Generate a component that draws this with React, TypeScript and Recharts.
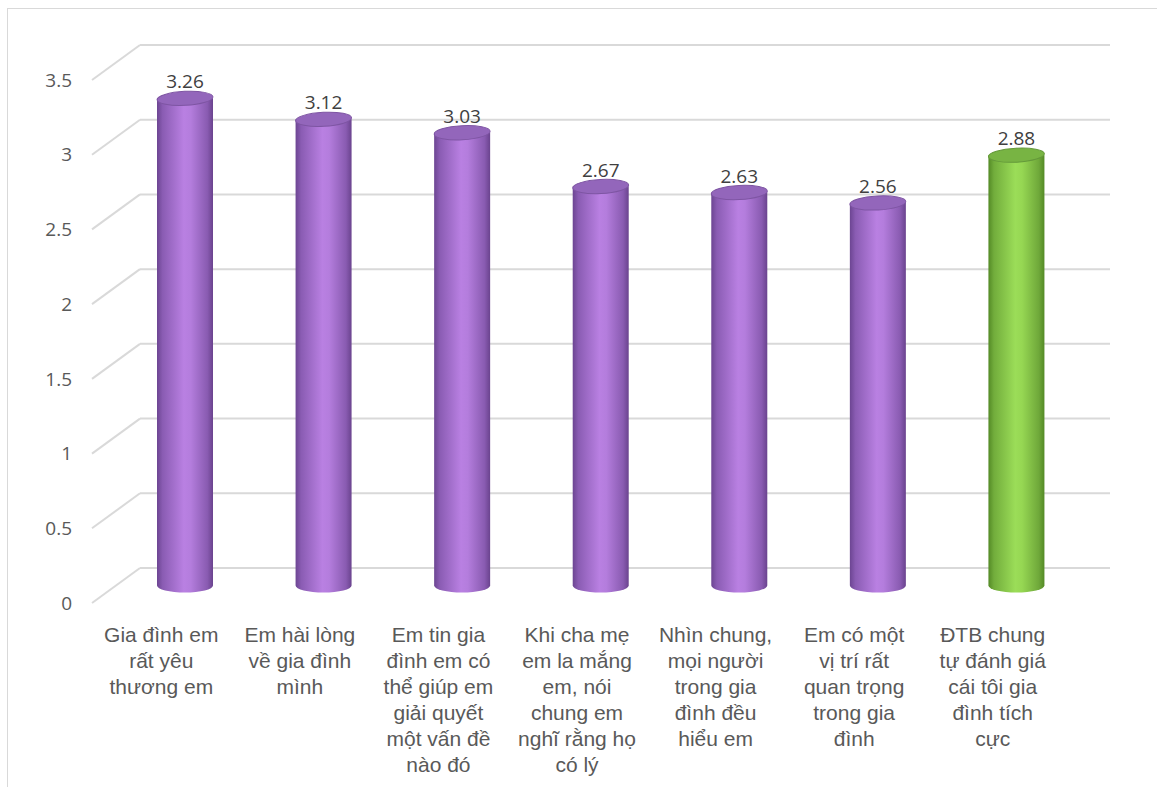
import { BarChart, Bar, XAxis, YAxis, CartesianGrid, Cell, LabelList } from 'recharts';

const categories = [
  'Gia đình em\nrất yêu\nthương em',
  'Em hài lòng\nvề gia đình\nmình',
  'Em tin gia\nđình em có\nthể giúp em\ngiải quyết\nmột vấn đề\nnào đó',
  'Khi cha mẹ\nem la mắng\nem, nói\nchung em\nnghĩ rằng họ\ncó lý',
  'Nhìn chung,\nmọi người\ntrong gia\nđình đều\nhiểu em',
  'Em có một\nvị trí rất\nquan trọng\ntrong gia\nđình',
  'ĐTB chung\ntự đánh giá\ncái tôi gia\nđình tích\ncực',
];
const scores = [3.26, 3.12, 3.03, 2.67, 2.63, 2.56, 2.88];
const highlight = [false, false, false, false, false, false, true];
const yTicks = [0, 0.5, 1, 1.5, 2, 2.5, 3, 3.5];

const data = categories.map((name, i) => ({ name, score: scores[i], total: highlight[i] }));

// 3D depth offsets: back wall and mid-depth (where cylinders stand)
const DEPTH_X = 48;
const DEPTH_Y = 35;
const MID_X = DEPTH_X / 2;
const MID_Y = DEPTH_Y / 2;
const RY = 7;
const GRID = '#d9d9d9';

const Cylinder = (props: any) => {
  const { x, y, width, height, payload } = props;
  const green = payload.total;
  const left = x + MID_X;
  const cx = left + width / 2;
  const top = y - MID_Y;
  const base = y + height - MID_Y;
  const rx = width / 2;
  return (
    <g>
      <path
        d={`M${left},${top} L${left},${base} A${rx},${RY} 0 0 0 ${left + width},${base} L${left + width},${top} Z`}
        fill={green ? 'url(#gradGreen)' : 'url(#gradPurple)'}
      />
      <ellipse
        cx={cx}
        cy={top}
        rx={rx}
        ry={RY}
        transform={`rotate(-3 ${cx} ${top})`}
        fill={green ? '#78b443' : '#9366bb'}
        stroke={green ? '#64993a' : '#7e55a3'}
        strokeWidth={1}
      />
    </g>
  );
};

const ValueLabel = (props: any) => {
  const { x, y, width, value } = props;
  return (
    <text
      x={x + width / 2 + MID_X}
      y={y - MID_Y - RY - 3}
      textAnchor="middle"
      fill="#404040"
      fontSize={19}
      fontFamily="'Open Sans', sans-serif"
    >
      {value}
    </text>
  );
};

const CategoryTick = (props: any) => {
  const { x, y, payload } = props;
  const lines = String(payload.value).split('\n');
  return (
    <text
      x={x}
      y={y}
      textAnchor="middle"
      fill="#595959"
      fontSize={21}
      fontFamily="'Liberation Sans', Arial, sans-serif"
    >
      {lines.map((ln, i) => (
        <tspan key={i} x={x} dy={i === 0 ? 31 : 26}>
          {ln}
        </tspan>
      ))}
    </text>
  );
};

const GridLine = (props: any) => {
  const { x1, y1, x2 } = props;
  return (
    <g>
      <line x1={x1} y1={y1} x2={x1 + DEPTH_X} y2={y1 - DEPTH_Y} stroke={GRID} strokeWidth={2} />
      <line x1={x1 + DEPTH_X} y1={y1 - DEPTH_Y} x2={x2 + DEPTH_X} y2={y1 - DEPTH_Y} stroke={GRID} strokeWidth={2} />
    </g>
  );
};

export default function App() {
  return (
    <div style={{ position: 'absolute', left: 0, top: 0, width: 1157, height: 787, background: '#fff', overflow: 'hidden' }}>
      <div style={{ position: 'absolute', left: 7, top: 8, width: 1170, height: 800, border: '1px solid #d9d9d9' }} />
      <BarChart
        width={1157}
        height={787}
        data={data}
        margin={{ top: 80, right: 95, left: 0, bottom: 4 }}
        barCategoryGap={0}
        style={{ position: 'absolute', left: 0, top: 0 }}
      >
        <defs>
          <linearGradient id="gradPurple" x1="0" y1="0" x2="1" y2="0">
            <stop offset="0%" stopColor="#6c4592" />
            <stop offset="10%" stopColor="#8a5cb3" />
            <stop offset="48%" stopColor="#b980e2" />
            <stop offset="60%" stopColor="#b47ddd" />
            <stop offset="90%" stopColor="#895bb1" />
            <stop offset="100%" stopColor="#6a438e" />
          </linearGradient>
          <linearGradient id="gradGreen" x1="0" y1="0" x2="1" y2="0">
            <stop offset="0%" stopColor="#548a26" />
            <stop offset="10%" stopColor="#72ad3c" />
            <stop offset="48%" stopColor="#9bdd58" />
            <stop offset="60%" stopColor="#96d753" />
            <stop offset="90%" stopColor="#6fa83a" />
            <stop offset="100%" stopColor="#548a26" />
          </linearGradient>
        </defs>
        <CartesianGrid vertical={false} horizontal={(p: any) => <GridLine key={p.key ?? p.index} {...p} />} />
        <XAxis
          dataKey="name"
          height={180}
          axisLine={false}
          tickLine={false}
          interval={0}
          tick={<CategoryTick />}
        />
        <YAxis
          width={92}
          domain={[0, 3.5]}
          ticks={yTicks}
          axisLine={false}
          tickLine={false}
          tickMargin={14}
          tick={{ fill: '#595959', fontSize: 19, fontFamily: "'Open Sans', sans-serif" }}
        />
        <Bar dataKey="score" barSize={56} shape={<Cylinder />} isAnimationActive={false}>
          {data.map((d, i) => (
            <Cell key={i} fill={d.total ? '#92d050' : '#b57ee0'} />
          ))}
          <LabelList dataKey="score" content={<ValueLabel />} />
        </Bar>
      </BarChart>
    </div>
  );
}
